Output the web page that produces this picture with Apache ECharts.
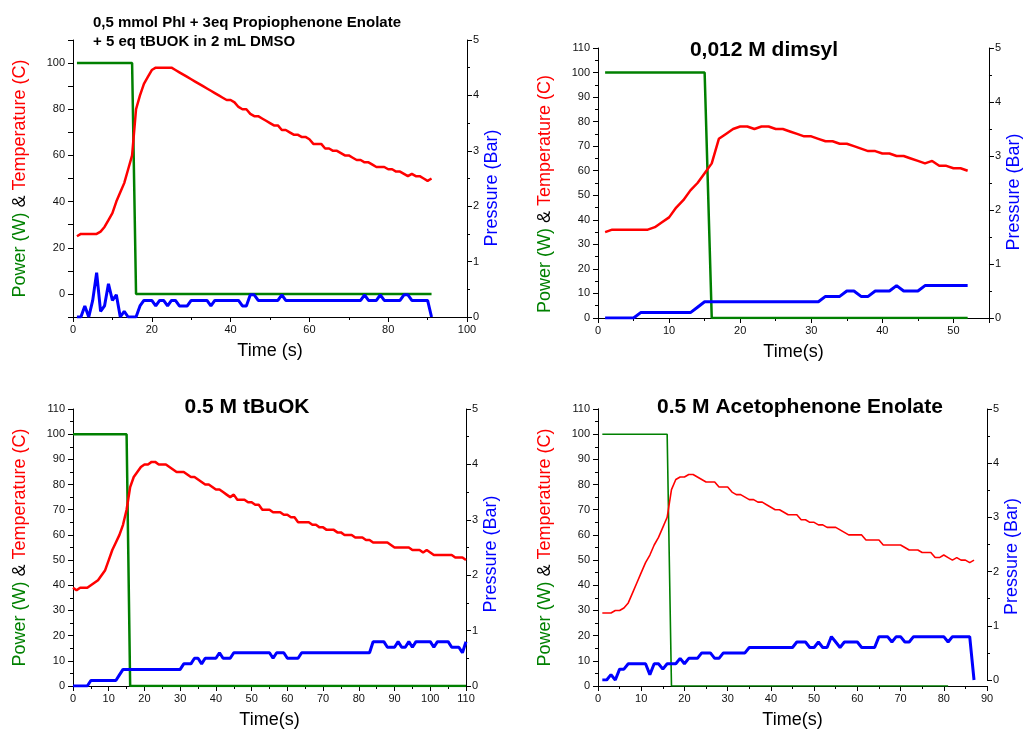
<!DOCTYPE html>
<html><head><meta charset="utf-8">
<script src="https://cdn.jsdelivr.net/npm/echarts@6/dist/echarts.min.js"></script>
<style>html,body{margin:0;padding:0;background:#fff}#c{width:1024px;height:732px}</style>
</head><body><div id="c"></div>
<script>
// ---------- Panel A: 0,5 mmol PhI + Propiophenone enolate (t starts at 1 s) ----------
const startA = 1;
const powerA = [100,100,100,100,100,100,100,100,100,100,100,100,100,100,100,
  0,0,0,0,0,0,0,0,0,0,0,0,0,0,0,0,0,0,0,0,0,0,0,0,0,0,0,0,0,0,0,0,0,0,0,0,0,0,0,0,
  0,0,0,0,0,0,0,0,0,0,0,0,0,0,0,0,0,0,0,0,0,0,0,0,0,0,0,0,0,0,0,0,0,0,0,0];
const tempA = [25,26,26,26,26,26,27,29,32,35,
  40,44,48,54,60,80,86,91,94,97,
  98,98,98,98,98,97,96,95,94,93,
  92,91,90,89,88,87,86,85,84,84,
  83,81,80,80,78,77,77,76,75,74,
  73,73,71,71,70,69,69,68,68,67,
  65,65,65,63,63,62,62,61,60,60,
  59,58,58,57,57,56,55,55,55,54,
  54,53,53,52,51,52,51,51,50,49,
  50];
const pressA = [0,0,0.2,0,0.3,0.8,0.1,0.2,0.6,0.3,
  0.4,0,0.1,0,0,0,0.2,0.3,0.3,0.3,
  0.2,0.3,0.3,0.2,0.3,0.3,0.2,0.2,0.2,0.3,
  0.3,0.3,0.3,0.3,0.2,0.3,0.3,0.3,0.3,0.3,
  0.3,0.3,0.2,0.2,0.4,0.4,0.3,0.3,0.3,0.3,
  0.3,0.3,0.4,0.3,0.3,0.3,0.3,0.3,0.3,0.3,
  0.3,0.3,0.3,0.3,0.3,0.3,0.3,0.3,0.3,0.3,
  0.3,0.3,0.3,0.4,0.3,0.3,0.3,0.4,0.3,0.3,
  0.3,0.3,0.3,0.4,0.4,0.3,0.3,0.3,0.3,0.3,
  0];

// ---------- Panel B: 0,012 M dimsyl (t starts at 1 s) ----------
const startB = 1;
const powerB = [100,100,100,100,100,100,100,100,100,100,100,100,100,100,100,
  0,0,0,0,0,0,0,0,0,0,0,0,0,0,0,0,0,0,0,0,0,0,0,0,0,0,0,0,0,0,0,0,0,0,0,0,0];
const tempB = [35,36,36,36,36,36,36,37,39,41,
  45,48,52,55,59,63,73,75,77,78,
  78,77,78,78,77,77,76,75,74,74,
  73,72,72,71,71,70,69,68,68,67,
  67,66,66,65,64,63,64,62,62,61,
  61,60];
const pressB = [0,0,0,0,0,0.1,0.1,0.1,0.1,0.1,
  0.1,0.1,0.1,0.2,0.3,0.3,0.3,0.3,0.3,0.3,
  0.3,0.3,0.3,0.3,0.3,0.3,0.3,0.3,0.3,0.3,
  0.3,0.4,0.4,0.4,0.5,0.5,0.4,0.4,0.5,0.5,
  0.5,0.6,0.5,0.5,0.5,0.6,0.6,0.6,0.6,0.6,
  0.6,0.6];

// ---------- Panel C: 0.5 M tBuOK (t starts at 0 s) ----------
const startC = 0;
const powerC = [100,100,100,100,100,100,100,100,100,100,100,100,100,100,100,100,
  0,0,0,0,0,0,0,0,0,0,0,0,0,0,0,0,0,0,0,0,0,0,0,0,0,0,0,0,0,0,0,0,0,0,
  0,0,0,0,0,0,0,0,0,0,0,0,0,0,0,0,0,0,0,0,0,0,0,0,0,0,0,0,0,0,0,0,0,0,
  0,0,0,0,0,0,0,0,0,0,0,0,0,0,0,0,0,0,0,0,0,0,0,0,0,0,0];
const tempC = [39,38,39,39,39,40,41,42,44,46,
  50,54,57,60,64,70,79,83,85,87,
  88,88,89,89,88,88,88,87,86,85,
  85,85,84,83,83,82,81,80,80,79,
  78,78,77,76,75,76,74,74,74,73,
  73,72,72,70,70,70,69,69,69,68,
  68,67,67,65,65,65,65,64,64,63,
  63,62,62,62,61,61,60,60,60,59,
  59,59,58,58,57,57,57,57,57,56,
  55,55,55,55,55,54,54,54,53,54,
  53,52,52,52,52,52,52,51,51,51,50];
const pressC = [0,0,0,0,0,0.1,0.1,0.1,0.1,0.1,
  0.1,0.1,0.1,0.2,0.3,0.3,0.3,0.3,0.3,0.3,
  0.3,0.3,0.3,0.3,0.3,0.3,0.3,0.3,0.3,0.3,
  0.3,0.4,0.4,0.4,0.5,0.5,0.4,0.5,0.5,0.5,
  0.5,0.6,0.5,0.5,0.5,0.6,0.6,0.6,0.6,0.6,
  0.6,0.6,0.6,0.6,0.6,0.6,0.5,0.6,0.6,0.6,
  0.5,0.5,0.5,0.5,0.6,0.6,0.6,0.6,0.6,0.6,
  0.6,0.6,0.6,0.6,0.6,0.6,0.6,0.6,0.6,0.6,
  0.6,0.6,0.6,0.6,0.8,0.8,0.8,0.8,0.7,0.7,
  0.7,0.8,0.7,0.7,0.8,0.7,0.8,0.8,0.8,0.8,
  0.8,0.7,0.8,0.8,0.8,0.8,0.7,0.7,0.7,0.6,0.8];

// ---------- Panel D: 0.5 M Acetophenone Enolate (t starts at 1 s) ----------
const startD = 1;
const powerD = [100,100,100,100,100,100,100,100,100,100,100,100,100,100,100,100,
  0,0,0,0,0,0,0,0,0,0,0,0,0,0,0,0,0,0,0,0,0,0,0,0,0,0,0,0,0,0,0,0,0,0,
  0,0,0,0,0,0,0,0,0,0,0,0,0,0,0,0,0,0,0,0,0,0,0,0,0,0,0,0,0,0,0];
const tempD = [29,29,29,30,30,31,33,37,41,45,
  49,52,56,59,63,67,78,82,83,83,
  84,84,83,82,81,81,81,79,79,79,
  77,76,76,75,74,74,73,73,72,71,
  70,70,69,68,68,68,66,66,65,65,
  64,64,63,63,63,62,61,60,60,60,
  60,58,58,58,58,56,56,56,56,56,
  55,54,54,54,53,53,53,51,51,52,
  51,50,51,50,50,49,50];
const pressD = [0,0,0.1,0,0.2,0.2,0.3,0.3,0.3,0.3,
  0.3,0.1,0.3,0.3,0.2,0.3,0.3,0.3,0.4,0.3,
  0.4,0.4,0.4,0.5,0.5,0.5,0.4,0.4,0.5,0.5,
  0.5,0.5,0.5,0.5,0.6,0.6,0.6,0.6,0.6,0.6,
  0.6,0.6,0.6,0.6,0.6,0.7,0.7,0.7,0.6,0.6,
  0.7,0.6,0.6,0.8,0.7,0.6,0.7,0.7,0.7,0.7,
  0.6,0.6,0.6,0.6,0.8,0.8,0.8,0.7,0.8,0.8,
  0.7,0.7,0.8,0.8,0.8,0.8,0.8,0.8,0.8,0.8,
  0.7,0.8,0.8,0.8,0.8,0.8,0];

// ---------- Text ----------
const titleA = ['0,5 mmol PhI + 3eq Propiophenone Enolate', '+ 5 eq tBUOK in 2 mL DMSO'];
const titleB = '0,012 M dimsyl';
const titleC = '0.5 M tBuOK';
const titleD = '0.5 M Acetophenone Enolate';
const xNameA = 'Time (s)';
const xNameOther = 'Time(s)';
const leftName = '{g|Power (W)} {k|&} {r|Temperature (C)}';
const rightName = 'Pressure (Bar)';

// ---------- Build ----------
const FONT = '"Liberation Sans", Arial, sans-serif';
const GREEN = '#008000', RED = '#ff0000', BLUE = '#0000ff';
const pairs = (start, arr) => arr.map((v, i) => [start + i, v]);

const grids = [
  {left: 73, right: 557, top: 40, bottom: 415},
  {left: 598, right: 34, top: 48, bottom: 414},
  {left: 73, right: 558, top: 409, bottom: 46},
  {left: 598, right: 37, top: 409, bottom: 46},
  {left: 598, right: 37, top: 409, bottom: 52}   // pressure grid for panel D
];

const axisBase = {
  axisLine: {show: true, onZero: false, lineStyle: {color: '#000', width: 1}},
  axisTick: {show: true, length: 5, lineStyle: {color: '#000'}},
  minorTick: {show: true, splitNumber: 2, length: 3, lineStyle: {color: '#000'}},
  splitLine: {show: false}, minorSplitLine: {show: false},
  axisLabel: {fontSize: 11, color: '#111', fontFamily: FONT}
};
function xAx(gi, max, interval, name) {
  return Object.assign({}, axisBase, {
    type: 'value', gridIndex: gi, min: 0, max: max, interval: interval,
    axisLabel: Object.assign({}, axisBase.axisLabel, {margin: 7, showMaxLabel: max % interval === 0}),
    name: name, nameLocation: 'middle', nameGap: 25,
    nameTextStyle: {fontSize: 18, color: '#000', fontFamily: FONT}
  });
}
function leftAx(gi, min, interval, fmt, pad) {
  return Object.assign({}, axisBase, {
    type: 'value', gridIndex: gi, position: 'left', min: min, max: 110, interval: interval,
    minorTick: fmt ? {show: false} : axisBase.minorTick,
    axisLabel: Object.assign({}, axisBase.axisLabel, {margin: 8, formatter: fmt || '{value}'}),
    name: leftName, nameLocation: 'middle', nameRotate: 90, nameGap: 44,
    nameTextStyle: {fontSize: 18, fontFamily: FONT, padding: [0, pad, 0, 0],
      rich: {g: {color: GREEN, fontSize: 18, fontFamily: FONT},
             k: {color: '#000', fontSize: 18, fontFamily: FONT},
             r: {color: RED, fontSize: 18, fontFamily: FONT}}}
  });
}
function rightAx(gi, pad) {
  return Object.assign({}, axisBase, {
    type: 'value', gridIndex: gi, position: 'right', min: 0, max: 5, interval: 1,
    axisLabel: Object.assign({}, axisBase.axisLabel, {margin: 6}),
    name: rightName, nameLocation: 'middle', nameRotate: 90, nameGap: 16,
    nameTextStyle: {fontSize: 18, color: BLUE, fontFamily: FONT, padding: [0, pad, 0, 0]}
  });
}

const xAxis = [
  xAx(0, 100, 20, xNameA),
  xAx(1, 55, 10, xNameOther),
  xAx(2, 110, 10, xNameOther),
  xAx(3, 90, 10, xNameOther),
  {type: 'value', gridIndex: 4, min: 0, max: 90, show: false}
];
const fmtA = v => (v >= 0 && v <= 100 && v % 20 === 0) ? String(v) : '';
const yAxis = [
  leftAx(0, -10, 10, fmtA, 0),   // 0
  rightAx(0, 19),               // 1
  leftAx(1, 0, 10, null, 22),   // 2
  rightAx(1, 18),               // 3
  leftAx(2, 0, 10, null, 0),    // 4
  rightAx(2, 13),               // 5
  leftAx(3, 0, 10, null, 0),    // 6
  rightAx(4, 24),               // 7 (panel D pressure)
  {type: 'value', gridIndex: 3, position: 'right', min: 0, max: 1, axisLine: {show: true, lineStyle: {color: '#000'}},
   axisTick: {show: false}, axisLabel: {show: false}, splitLine: {show: false}} // 8 frame line
];

function line(xi, yi, data, color, width) {
  return {type: 'line', xAxisIndex: xi, yAxisIndex: yi, data: data, showSymbol: false, symbol: 'none',
          lineStyle: {color: color, width: width}, itemStyle: {color: color}, silent: true, z: 2};
}
const series = [
  line(0, 0, pairs(startA, powerA), GREEN, 2.5),
  line(0, 0, pairs(startA, tempA), RED, 2.5),
  line(0, 1, pairs(startA, pressA), BLUE, 3),
  line(1, 2, pairs(startB, powerB), GREEN, 2.5),
  line(1, 2, pairs(startB, tempB), RED, 2.5),
  line(1, 3, pairs(startB, pressB), BLUE, 3),
  line(2, 4, pairs(startC, powerC), GREEN, 2.5),
  line(2, 4, pairs(startC, tempC), RED, 2.5),
  line(2, 5, pairs(startC, pressC), BLUE, 3),
  line(3, 6, pairs(startD, powerD), GREEN, 1.6),
  line(3, 6, pairs(startD, tempD), RED, 1.6),
  line(4, 7, pairs(startD, pressD), BLUE, 3)
];

function txt(x, y, text, size, align) {
  return {type: 'text', x: x, y: y, silent: true,
    style: {text: text, font: 'bold ' + size + 'px ' + FONT, fill: '#000',
            align: align, textAlign: align, verticalAlign: 'middle', textVerticalAlign: 'middle'}};
}
const graphic = [
  txt(93, 23, titleA[0], 15, 'left'),
  txt(93, 42, titleA[1], 15, 'left'),
  txt(764, 50, titleB, 21, 'center'),
  txt(247, 407, titleC, 21, 'center'),
  txt(800, 407, titleD, 21, 'center')
];

const chart = echarts.init(document.getElementById('c'), null, {renderer: 'canvas'});
chart.setOption({
  animation: false,
  backgroundColor: '#fff',
  textStyle: {fontFamily: FONT},
  grid: grids, xAxis: xAxis, yAxis: yAxis, series: series, graphic: graphic
});
</script></body></html>
